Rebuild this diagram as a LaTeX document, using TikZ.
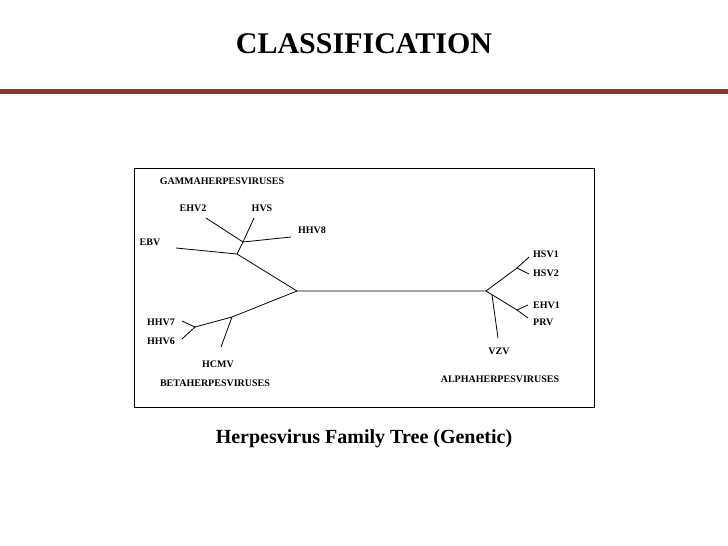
\documentclass[tikz,border=0pt]{standalone}
\usepackage{fontspec}
\setmainfont{Liberation Serif}
\definecolor{rulered}{RGB}{136,58,44}
\tikzset{branch/.style={line width=0.8pt},
  leaf/.style={font=\bfseries\fontsize{10}{12}\selectfont, inner sep=1pt}}
\begin{document}
\begin{tikzpicture}[x=1pt,y=-1pt]
\useasboundingbox (0,0) rectangle (728,546);
\node[font=\bfseries\fontsize{30}{36}\selectfont, anchor=base] (title) at (364,53) {CLASSIFICATION};
\fill[rulered] (0,89) rectangle (728,94);
\draw[line width=1pt] (134,168) rectangle (594,407);
% junctions
\coordinate (gamma) at (243,242);
\coordinate (gbase) at (237,254);
\coordinate (root) at (297,291);
\coordinate (beta) at (232,317);
\coordinate (hhv) at (195,327);
\coordinate (alpha) at (486,291);
\coordinate (hsv) at (517,268);
\coordinate (prv) at (517,310);
% leaf ends
\coordinate (eEHVtwo) at (206,218);
\coordinate (eHVS) at (254,218);
\coordinate (eHHVeight) at (291,237);
\coordinate (eEBV) at (176,248);
\coordinate (eHHVseven) at (182,321);
\coordinate (eHHVsix) at (182,339);
\coordinate (eHCMV) at (221,347);
\coordinate (eHSVone) at (529,257);
\coordinate (eHSVtwo) at (529,274);
\coordinate (eEHVone) at (528,305);
\coordinate (ePRV) at (528,318);
\coordinate (vzvtop) at (492,295);
\coordinate (eVZV) at (498,338);
% branches
\draw[branch] (eEHVtwo) -- (gamma) -- (eHHVeight);
\draw[branch] (eHVS) -- (gamma) -- (gbase) -- (eEBV);
\draw[branch] (gbase) -- (root) -- (alpha);
\draw[branch] (root) -- (beta) -- (hhv);
\draw[branch] (beta) -- (eHCMV);
\draw[branch] (eHHVseven) -- (hhv) -- (eHHVsix);
\draw[branch] (alpha) -- (hsv);
\draw[branch] (eHSVone) -- (hsv) -- (eHSVtwo);
\draw[branch] (alpha) -- (prv);
\draw[branch] (eEHVone) -- (prv) -- (ePRV);
\draw[branch] (vzvtop) -- (eVZV);
% labels
\node[leaf] (gamlab) at (222,181) {GAMMAHERPESVIRUSES};
\node[leaf] (EHVtwo) at (193,208) {EHV2};
\node[leaf] (HVS) at (262,208) {HVS};
\node[leaf] (HHVeight) at (312,230) {HHV8};
\node[leaf] (EBV) at (150,242) {EBV};
\node[leaf] (HHVseven) at (161,322) {HHV7};
\node[leaf] (HHVsix) at (161,341) {HHV6};
\node[leaf] (HCMV) at (218,364) {HCMV};
\node[leaf] (betlab) at (215,383) {BETAHERPESVIRUSES};
\node[leaf, anchor=west] (HSVone) at (532,254) {HSV1};
\node[leaf, anchor=west] (HSVtwo) at (532,273) {HSV2};
\node[leaf, anchor=west] (EHVone) at (532,305) {EHV1};
\node[leaf, anchor=west] (PRV) at (532,322) {PRV};
\node[leaf] (VZV) at (499,351) {VZV};
\node[leaf] (alplab) at (500,379) {ALPHAHERPESVIRUSES};
\node[font=\bfseries\fontsize{20}{24}\selectfont, anchor=base] (caption) at (364,443) {Herpesvirus Family Tree (Genetic)};
\end{tikzpicture}
\end{document}
